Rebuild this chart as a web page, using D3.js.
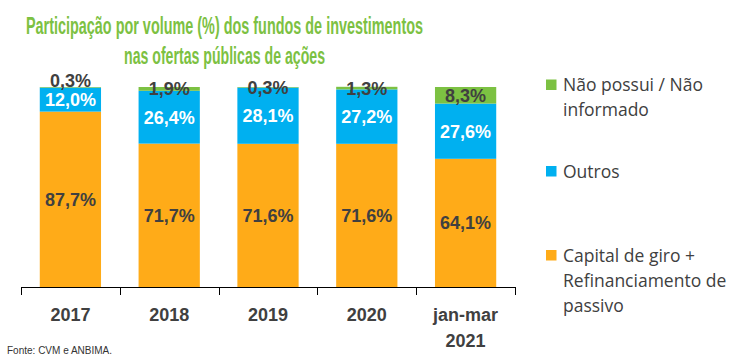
<!DOCTYPE html>
<html>
<head>
<meta charset="utf-8">
<script src="https://cdn.jsdelivr.net/npm/d3@7"></script>
<style>
  html, body { margin: 0; padding: 0; background: #fff; }
  svg { display: block; }
</style>
</head>
<body>
<svg id="chart" width="750" height="356"></svg>
<script>
// ---- data ----
const categories = ["2017", "2018", "2019", "2020", "jan-mar 2021"];
const categoryLines = [["2017"], ["2018"], ["2019"], ["2020"], ["jan-mar", "2021"]];
const capitalGiro = [87.7, 71.7, 71.6, 71.6, 64.1];
const outros = [12.0, 26.4, 28.1, 27.2, 27.6];
const naoPossui = [0.3, 1.9, 0.3, 1.3, 8.3];
const seriesNames = ["Capital de giro + Refinanciamento de passivo", "Outros", "Não possui / Não informado"];
const legendLines = [["Não possui / Não", "informado"], ["Outros"], ["Capital de giro +", "Refinanciamento de", "passivo"]];
const titleLines = ["Participação por volume (%) dos fundos de investimentos", "nas ofertas públicas de ações"];
const sourceText = "Fonte: CVM e ANBIMA.";

// ---- styles ----
const colors = { capital: "#FFAB18", outros: "#00B0F0", nao: "#7CC142" };
const darkText = "#404040";

const svg = d3.select("#chart");

// title
const titleG = svg.append("g");
const titleBase = [33.5, 63.5];
const titleWidths = [397, 201];
titleLines.forEach((t, i) => {
  titleG.append("text")
    .attr("x", 224.5).attr("y", titleBase[i])
    .attr("text-anchor", "middle")
    .attr("font-family", "'Liberation Sans', Arial, sans-serif")
    .attr("font-weight", "bold")
    .attr("font-size", 23)
    .attr("fill", "#7CC142")
    .attr("textLength", titleWidths[i])
    .attr("lengthAdjust", "spacingAndGlyphs")
    .text(t);
});

// scales
const x = d3.scaleBand().domain(categories).range([21, 515]).paddingInner(0.38).paddingOuter(0.19);
const y = d3.scaleLinear().domain([0, 100]).range([287, 87]);

const rows = categories.map((c, i) => ({ cat: c, capital: capitalGiro[i], outros: outros[i], nao: naoPossui[i] }));
const keys = ["capital", "outros", "nao"];
const stacked = d3.stack().keys(keys)(rows);

const barsG = svg.append("g");
stacked.forEach(layer => {
  barsG.selectAll(null).data(layer).enter().append("rect")
    .attr("x", d => x(d.data.cat))
    .attr("width", x.bandwidth())
    .attr("y", d => y(d[1]))
    .attr("height", d => y(d[0]) - y(d[1]))
    .attr("fill", colors[layer.key]);
});

// value labels
const fmt = v => v.toFixed(1).replace(".", ",") + "%";
const mid = d => (y(d[0]) + y(d[1])) / 2;
stacked.forEach((layer, li) => {
  barsG.selectAll(null).data(layer).enter().append("text")
    .attr("x", d => x(d.data.cat) + x.bandwidth() / 2)
    .attr("y", (d, i) => {
      let c = mid(d);
      if (li > 0) {
        const below = mid(stacked[li - 1][i]);
        c = Math.min(c, below - 19);
      }
      return c;
    })
    .attr("dy", "0.36em")
    .attr("text-anchor", "middle")
    .attr("font-family", "'Liberation Sans', Arial, sans-serif")
    .attr("font-weight", "bold")
    .attr("font-size", 18)
    .attr("fill", layer.key === "outros" ? "#ffffff" : darkText)
    .text(d => fmt(d.data[layer.key]));
});

// x axis
const step = x.step();
const axisG = svg.append("g");
axisG.append("line")
  .attr("x1", x.range()[0]).attr("x2", x.range()[1])
  .attr("y1", y(0) + 0.5).attr("y2", y(0) + 0.5)
  .attr("stroke", "#000").attr("stroke-width", 1);
d3.range(categories.length + 1).forEach(i => {
  const tx = Math.round(x.range()[0] + i * step) + 0.5;
  axisG.append("line")
    .attr("x1", tx).attr("x2", tx)
    .attr("y1", y(0)).attr("y2", y(0) + 8)
    .attr("stroke", "#000").attr("stroke-width", 1);
});
categories.forEach((c, i) => {
  const t = axisG.append("text")
    .attr("x", x(c) + x.bandwidth() / 2)
    .attr("y", 321)
    .attr("text-anchor", "middle")
    .attr("font-family", "'Liberation Sans', Arial, sans-serif")
    .attr("font-weight", "bold")
    .attr("font-size", 18)
    .attr("fill", darkText);
  categoryLines[i].forEach((ln, j) => {
    t.append("tspan").attr("x", x(c) + x.bandwidth() / 2).attr("dy", j === 0 ? 0 : 26).text(ln);
  });
});

// legend
const legendG = svg.append("g");
const legendTops = [79.5, 166, 250];
const legendColors = [colors.nao, colors.outros, colors.capital];
legendLines.forEach((lines, i) => {
  legendG.append("rect")
    .attr("x", 546).attr("y", legendTops[i])
    .attr("width", 10.5).attr("height", 10.5)
    .attr("fill", legendColors[i]);
  const t = legendG.append("text")
    .attr("x", 563).attr("y", legendTops[i] + 11.5)
    .attr("font-family", "'Open Sans', 'Liberation Sans', sans-serif")
    .attr("font-size", 17.5)
    .attr("fill", darkText);
  lines.forEach((ln, j) => {
    t.append("tspan").attr("x", 563).attr("dy", j === 0 ? 0 : 25).text(ln);
  });
});

// source
svg.append("text")
  .attr("x", 7).attr("y", 354)
  .attr("font-family", "'Liberation Sans', Arial, sans-serif")
  .attr("font-size", 10)
  .attr("fill", "#333")
  .text(sourceText);
</script>
</body>
</html>
